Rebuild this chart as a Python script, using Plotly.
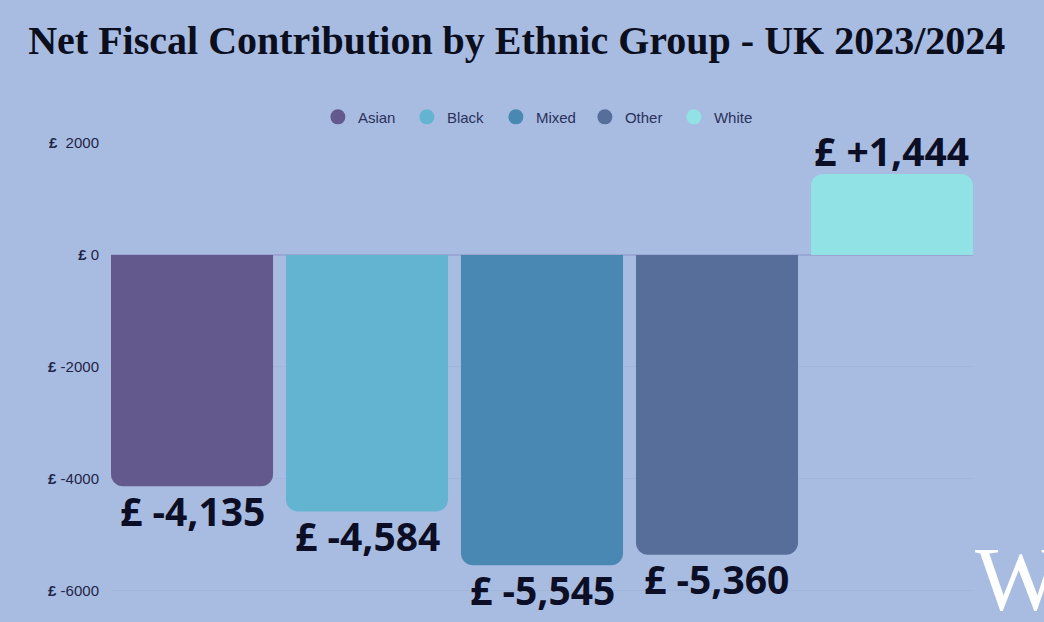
import plotly.graph_objects as go

# values
groups = ["Asian", "Black", "Mixed", "Other", "White"]
contribution = [-4135, -4584, -5545, -5360, 1444]
value_labels = ["£ -4,135", "£ -4,584", "£ -5,545", "£ -5,360", "£ +1,444"]
colors = ["#63598C", "#63B4D1", "#4A88B4", "#586E9A", "#90E2E4"]
y_ticks = [2000, 0, -2000, -4000, -6000]
y_tick_labels = ["<b>£</b>  2000", "<b>£</b> 0", "<b>£</b> -2000", "<b>£</b> -4000", "<b>£</b> -6000"]

BG = "#A8BCE2"
DARK = "#1F2547"


def main():
    fig = go.Figure()

    # the bars
    fig.add_trace(go.Bar(
        x=groups,
        y=contribution,
        marker_color=colors,
        marker_line_width=0,
        showlegend=False,
        hoverinfo="skip",
    ))

    # empty traces, only there to get round legend markers
    for group, color in zip(groups, colors):
        fig.add_trace(go.Scatter(
            x=[group],
            y=[None],
            mode="markers",
            name=group,
            marker=dict(color=color, size=15, symbol="circle"),
        ))

    # value labels, just past the end of each bar
    for group, value, label in zip(groups, contribution, value_labels):
        fig.add_annotation(
            x=group,
            y=value,
            text=f"<b>{label}</b>",
            showarrow=False,
            yanchor="middle",
            yshift=24 if value > 0 else -24,
            font=dict(family="Open Sans, sans-serif", size=39, color="#0B0E24"),
        )

    # watermark in the corner
    fig.add_annotation(
        text="W",
        xref="paper",
        yref="paper",
        x=1.0,
        y=-0.04,
        xanchor="left",
        yanchor="bottom",
        showarrow=False,
        font=dict(family="Liberation Serif, serif", size=92, color="#FFFFFF"),
    )

    fig.update_layout(
        width=1044,
        height=622,
        paper_bgcolor=BG,
        plot_bgcolor=BG,
        bargap=0.074,
        barcornerradius=12,
        margin=dict(l=111, r=71, t=143, b=9, autoexpand=False),
        font=dict(family="Liberation Sans, Arial, sans-serif", size=15, color=DARK),
        title=dict(
            text="<b>Net Fiscal Contribution by Ethnic Group - UK 2023/2024</b>",
            font=dict(family="Liberation Serif, serif", size=40, color="#0B0E1C"),
            x=0.027,
            xanchor="left",
            y=0.935,
            yanchor="middle",
        ),
        legend=dict(
            orientation="h",
            x=0.24,
            xanchor="left",
            y=1.02,
            yanchor="bottom",
            entrywidth=44,
            entrywidthmode="pixels",
            font=dict(size=15, color="#2B315A"),
            bgcolor="rgba(0,0,0,0)",
        ),
    )
    fig.update_xaxes(
        range=[-0.463, 4.463],
        showticklabels=False,
        showgrid=False,
        ticks="",
        showline=False,
        zeroline=False,
    )
    fig.update_yaxes(
        range=[-6400, 2000],
        tickvals=y_ticks,
        ticktext=y_tick_labels,
        showgrid=True,
        gridcolor="#A2B6DC",
        gridwidth=1,
        zeroline=True,
        zerolinecolor="#9AA6D4",
        zerolinewidth=2,
        ticks="",
        ticklabelstandoff=11,
        tickfont=dict(size=15, color=DARK),
    )

    # drop the page's default margin so the figure fills the window
    fig.write_html(
        "out.html",
        config={"displayModeBar": False},
        post_script="document.body.style.margin='0';",
    )


if __name__ == "__main__":
    main()
